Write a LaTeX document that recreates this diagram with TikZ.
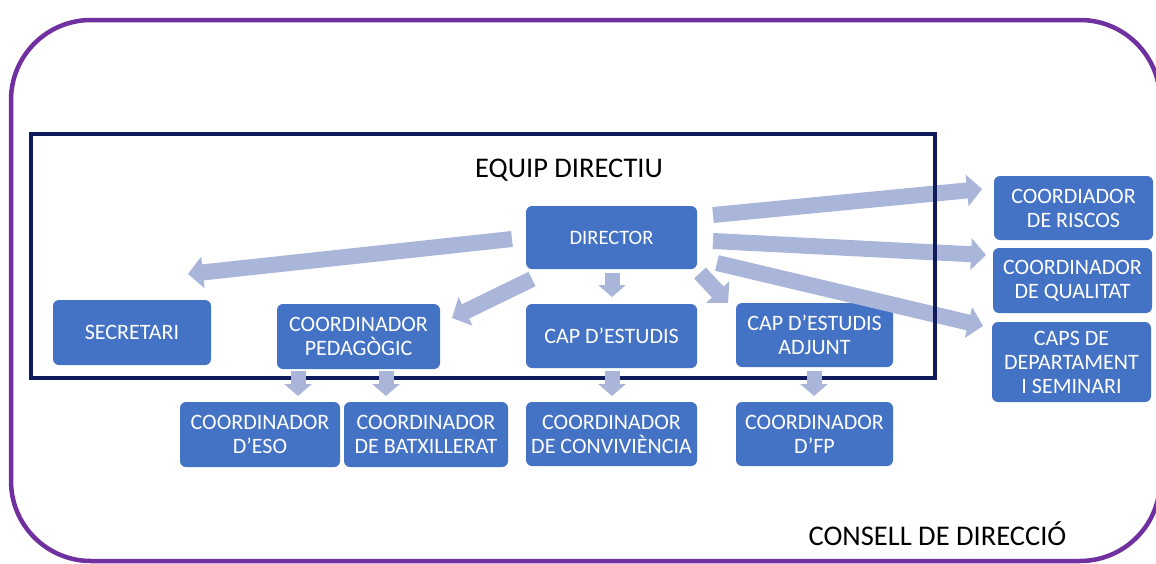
\documentclass[tikz,border=0pt]{standalone}
\usepackage{fontspec}
\setmainfont{Carlito}
\usetikzlibrary{arrows.meta}
\definecolor{boxblue}{HTML}{4472C4}
\definecolor{arrowblue}{HTML}{A9B6DA}
\definecolor{navyline}{HTML}{0F1B5C}
\definecolor{framepurple}{HTML}{7030A0}
\tikzset{
  orgbox/.style={fill=boxblue, rounded corners=6pt, text=white, align=center,
    inner sep=0pt, font=\fontsize{22}{24}\selectfont},
  barrow/.style={draw=arrowblue, fill=arrowblue, line width=16pt,
    -{Triangle[length=15pt,width=31pt]}},
  sarrow/.style={draw=arrowblue, fill=arrowblue, line width=15pt,
    -{Triangle[length=12pt,width=27pt]}},
  titletext/.style={font=\fontsize{28.5}{30}\selectfont, text=black, inner sep=0pt}
}
\begin{document}
\begin{tikzpicture}[x=1pt,y=-1pt]
\useasboundingbox (0,0) rectangle (1156,563);
\fill[white] (0,0) rectangle (1156,563);
% outer frame
\draw[framepurple, line width=4.5pt, rounded corners=80pt] (11,20) rectangle (1160,561);
% boxes
\node[orgbox, minimum width=171pt, minimum height=63pt, font=\fontsize{20.5}{22}\selectfont] (dir) at (611.5,237.5) {DIRECTOR};
\node[orgbox, minimum width=158pt, minimum height=65pt] (sec) at (132,332.5) {SECRETARI};
\node[orgbox, minimum width=163pt, minimum height=65pt] (ped) at (358.5,336.5) {COORDINADOR\\PEDAGÒGIC};
\node[orgbox, minimum width=171pt, minimum height=64pt] (cap) at (611.5,336) {CAP D’ESTUDIS};
\node[orgbox, minimum width=157pt, minimum height=64pt] (adj) at (814.5,335) {CAP D’ESTUDIS\\ADJUNT};
\node[orgbox, minimum width=160pt, minimum height=65pt] (eso) at (260,434.5) {COORDINADOR\\D’ESO};
\node[orgbox, minimum width=164pt, minimum height=65pt] (batx) at (426,434.5) {COORDINADOR\\DE BATXILLERAT};
\node[orgbox, minimum width=171pt, minimum height=64pt] (conv) at (611.5,434) {COORDINADOR\\DE CONVIVIÈNCIA};
\node[orgbox, minimum width=157pt, minimum height=64pt] (fp) at (814.5,434) {COORDINADOR\\D’FP};
\node[orgbox, minimum width=159pt, minimum height=64pt] (risc) at (1073.5,208) {COORDIADOR\\DE RISCOS};
\node[orgbox, minimum width=159pt, minimum height=65pt] (qual) at (1072.5,280.5) {COORDINADOR\\DE QUALITAT};
\node[orgbox, minimum width=159pt, minimum height=80pt] (caps) at (1071.5,362) {CAPS DE\\DEPARTAMENT\\I SEMINARI};
% titles
\node[titletext, anchor=base] (equip) at (569,177) {EQUIP DIRECTIU};
\node[titletext, anchor=base] (consell) at (937.5,545) {CONSELL DE DIRECCIÓ};
% arrow end points
\coordinate (a1s) at (512,239);  \coordinate (a1e) at (188,274);
\coordinate (a2s) at (532,279);  \coordinate (a2e) at (452,318);
\coordinate (a3s) at (612,273);  \coordinate (a3e) at (612,297);
\coordinate (a4s) at (700,273);  \coordinate (a4e) at (728,303);
\coordinate (a5s) at (713,215);  \coordinate (a5e) at (982,189);
\coordinate (a6s) at (713,241);  \coordinate (a6e) at (986,255);
\coordinate (a7s) at (717,263);  \coordinate (a7e) at (983,326);
\coordinate (a8s) at (298,371);  \coordinate (a8e) at (298,396);
\coordinate (a9s) at (386,371);  \coordinate (a9e) at (386,396);
\coordinate (a10s) at (612,371); \coordinate (a10e) at (612,396);
\coordinate (a11s) at (814,371); \coordinate (a11e) at (814,396);
% long arrows
\draw[barrow] (a1s) -- (a1e);
\draw[barrow] (a2s) -- (a2e);
\draw[sarrow] (a3s) -- (a3e);
\draw[barrow] (a4s) -- (a4e);
\draw[barrow] (a5s) -- (a5e);
\draw[barrow] (a6s) -- (a6e);
\draw[barrow] (a7s) -- (a7e);
% equip directiu frame
\draw[navyline, line width=4.5pt] (31,134) rectangle (935,378);
% short arrows
\draw[sarrow] (a8s) -- (a8e);
\draw[sarrow] (a9s) -- (a9e);
\draw[sarrow] (a10s) -- (a10e);
\draw[sarrow] (a11s) -- (a11e);
\end{tikzpicture}
\end{document}
